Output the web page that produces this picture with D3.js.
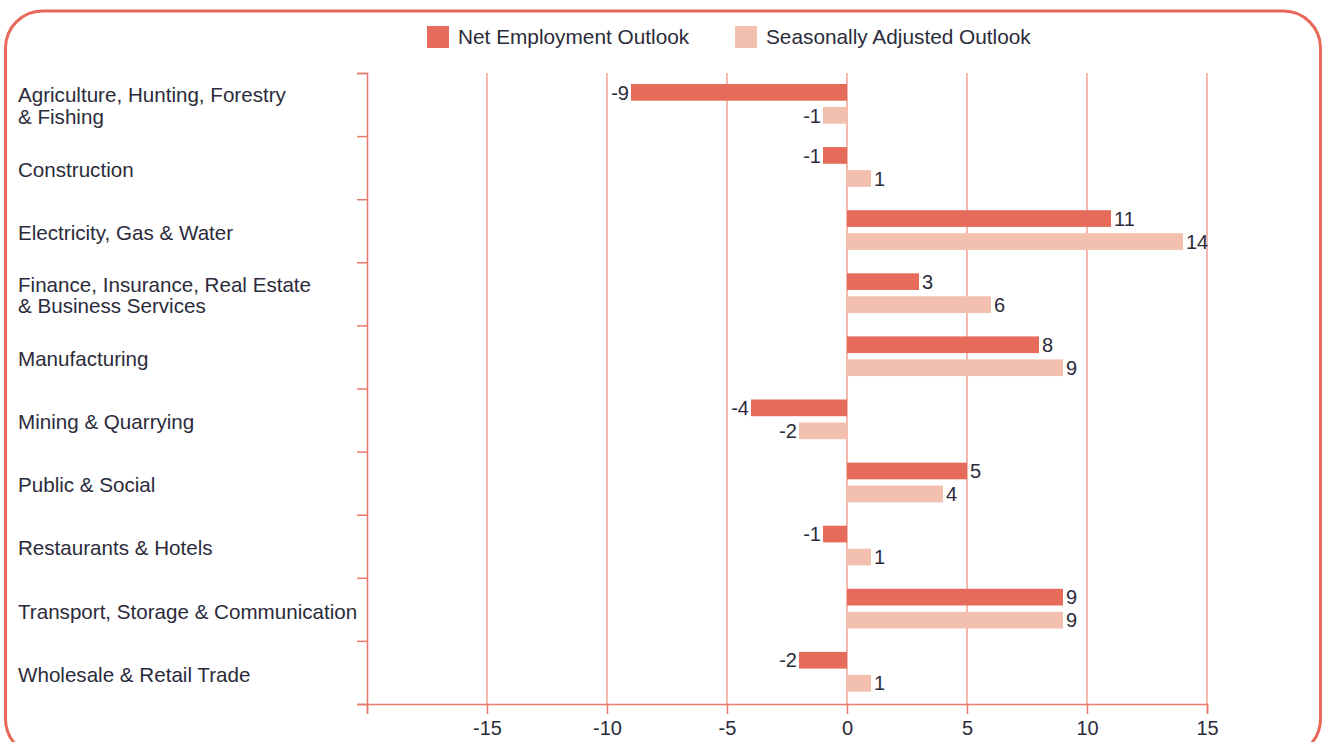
<!DOCTYPE html>
<html>
<head>
<meta charset="utf-8">
<script src="https://cdn.jsdelivr.net/npm/d3@7"></script>
<style>
  body { margin: 0; background: #fff; }
  svg text { font-family: "Liberation Sans", Arial, sans-serif; fill: #2b2b3b; }
</style>
</head>
<body>
<div id="chart"></div>
<script>
const categories = [
  "Agriculture, Hunting, Forestry\n& Fishing",
  "Construction",
  "Electricity, Gas & Water",
  "Finance, Insurance, Real Estate\n& Business Services",
  "Manufacturing",
  "Mining & Quarrying",
  "Public & Social",
  "Restaurants & Hotels",
  "Transport, Storage & Communication",
  "Wholesale & Retail Trade"
];
const netOutlook = [-9, -1, 11, 3, 8, -4, 5, -1, 9, -2];
const seasonalOutlook = [-1, 1, 14, 6, 9, -2, 4, 1, 9, 1];
const seriesNames = ["Net Employment Outlook", "Seasonally Adjusted Outlook"];
const xTicks = [-20, -15, -10, -5, 0, 5, 10, 15];

const W = 1325, H = 742;
const margin = { top: 73, left: 367, right: 118, bottom: 38 };
const colors = ["#e66b5b", "#f3bfae"];
const axisColor = "#e8796b";
const gridColor = "#f0a095";

const svg = d3.select("#chart").append("svg")
  .attr("width", W).attr("height", H);

// rounded frame
svg.append("rect")
  .attr("x", 5.5).attr("y", 11)
  .attr("width", 1315).attr("height", 745)
  .attr("rx", 37)
  .attr("fill", "none")
  .attr("stroke", "#e8695a")
  .attr("stroke-width", 3);

const x = d3.scaleLinear()
  .domain([-20, 15])
  .range([margin.left, W - margin.right]);

const y = d3.scaleBand()
  .domain(categories)
  .range([margin.top, H - margin.bottom]);

const inner = d3.scaleBand()
  .domain([0, 1])
  .range([11, 50.7])
  .paddingInner(0.274);

const yBound = d3.scaleLinear()
  .domain([0, categories.length])
  .range([margin.top, H - margin.bottom]);

// grid lines
svg.append("g")
  .selectAll("line")
  .data(xTicks.slice(1))
  .join("line")
  .attr("x1", d => x(d)).attr("x2", d => x(d))
  .attr("y1", margin.top).attr("y2", H - margin.bottom)
  .attr("stroke", gridColor)
  .attr("stroke-width", 1.5);

// bottom axis
const xAxis = svg.append("g")
  .attr("transform", `translate(0, ${H - margin.bottom})`)
  .call(d3.axisBottom(x).tickValues(xTicks).tickSize(10).tickSizeOuter(10)
    .tickFormat(d => d === -20 ? "" : d));
xAxis.selectAll("path, line").attr("stroke", axisColor).attr("stroke-width", 1.5);
xAxis.selectAll("text")
  .attr("font-size", 20)
  .attr("y", 17)
  .attr("fill", "#2b2b3b")
  .style("font-family", "Liberation Sans, Arial, sans-serif");

// left axis, ticks at category boundaries
const yAxis = svg.append("g")
  .attr("transform", `translate(${margin.left}, 0)`)
  .call(d3.axisLeft(yBound).ticks(categories.length).tickSize(10).tickSizeOuter(10)
    .tickFormat(""));
yAxis.selectAll("path, line").attr("stroke", axisColor).attr("stroke-width", 1.5);

// category labels
svg.append("g")
  .selectAll("text")
  .data(categories)
  .join("text")
  .attr("x", 18)
  .attr("y", d => y(d) + y.bandwidth() / 2 + 2)
  .attr("font-size", 20.6)
  .each(function (d) {
    const lines = d.split("\n");
    const t = d3.select(this);
    lines.forEach((ln, i) => {
      t.append("tspan")
        .attr("x", 18)
        .attr("dy", i === 0 ? (0.35 - (lines.length - 1) * 0.55) + "em" : "1.03em")
        .text(ln);
    });
  });

// bars
const series = [netOutlook, seasonalOutlook];
series.forEach((vals, s) => {
  const g = svg.append("g");
  g.selectAll("rect")
    .data(vals)
    .join("rect")
    .attr("x", d => x(Math.min(0, d)))
    .attr("y", (d, i) => y(categories[i]) + inner(s))
    .attr("width", d => Math.abs(x(d) - x(0)))
    .attr("height", inner.bandwidth())
    .attr("fill", colors[s]);
  g.selectAll("text")
    .data(vals)
    .join("text")
    .attr("x", d => d < 0 ? x(d) - 2 : x(d) + 3)
    .attr("y", (d, i) => y(categories[i]) + inner(s) + inner.bandwidth() / 2)
    .attr("dy", "0.36em")
    .attr("text-anchor", d => d < 0 ? "end" : "start")
    .attr("font-size", 20)
    .text(d => d);
});

// legend
const legendX = [427, 735];
const legend = svg.append("g");
seriesNames.forEach((name, i) => {
  legend.append("rect")
    .attr("x", legendX[i]).attr("y", 26)
    .attr("width", 22).attr("height", 22)
    .attr("fill", colors[i]);
  legend.append("text")
    .attr("x", legendX[i] + 31).attr("y", 37)
    .attr("dy", "0.36em")
    .attr("font-size", 20.8)
    .text(name);
});
</script>
</body>
</html>
